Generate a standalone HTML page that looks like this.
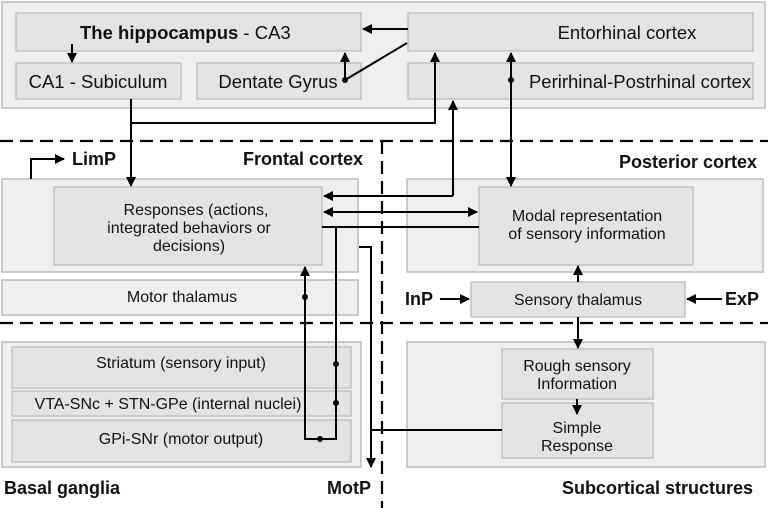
<!DOCTYPE html>
<html><head><meta charset="utf-8"><style>
html,body{margin:0;padding:0;background:#fff}
svg{display:block}
text{font-family:"Liberation Sans",sans-serif;fill:#111}
.c{fill:#efefef;stroke:#bcbcbc;stroke-width:1.5}
.b{fill:#e3e3e3;stroke:#c2c2c2;stroke-width:1.5}
.l{stroke:#000;stroke-width:2;fill:none}
.d{stroke:#000;stroke-width:2.2;stroke-dasharray:13,7;fill:none}
</style></head><body>
<svg width="768" height="508" viewBox="0 0 768 508" xmlns="http://www.w3.org/2000/svg">
<defs><marker id="a" markerWidth="10" markerHeight="10" refX="9" refY="5" orient="auto" markerUnits="userSpaceOnUse"><path d="M0,0 L10,5 L0,10 z" fill="#000"/></marker></defs>
<rect class="c" x="2" y="2" width="763" height="106"/>
<rect class="b" x="16" y="13" width="345" height="38"/>
<rect class="b" x="16" y="63" width="165" height="36"/>
<rect class="b" x="197" y="63" width="164" height="36"/>
<rect class="b" x="408" y="13" width="345" height="38"/>
<rect class="b" x="408" y="63" width="345" height="36"/>
<rect class="c" x="2" y="179" width="356" height="93"/>
<rect class="b" x="54" y="187" width="268" height="78"/>
<rect class="c" x="407" y="179" width="356" height="93"/>
<rect class="b" x="479" y="187" width="214" height="78"/>
<rect class="c" x="2" y="280" width="356" height="35"/>
<rect class="b" x="471" y="282" width="214" height="35"/>
<rect class="c" x="2" y="342" width="359" height="125"/>
<rect class="b" x="12" y="347" width="339" height="41"/>
<rect class="b" x="12" y="391" width="339" height="25"/>
<rect class="b" x="12" y="420" width="339" height="42"/>
<rect class="c" x="407" y="342" width="358" height="125"/>
<rect class="b" x="502" y="349" width="151" height="50"/>
<rect class="b" x="502" y="403" width="151" height="55"/>
<path class="d" d="M0 141 H768 M0 323 H768 M382 141 V508"/>
<text x="80" y="39" font-size="18.5"><tspan font-weight="bold">The hippocampus</tspan> - CA3</text>
<text x="98" y="88" font-size="18.5" text-anchor="middle">CA1 - Subiculum</text>
<text x="278" y="88" font-size="18.5" text-anchor="middle">Dentate Gyrus</text>
<text x="627" y="39" font-size="18.5" text-anchor="middle">Entorhinal cortex</text>
<text x="640" y="88" font-size="18.5" text-anchor="middle">Perirhinal-Postrhinal cortex</text>
<text x="196" y="215" font-size="16" text-anchor="middle">Responses (actions,</text>
<text x="189" y="233" font-size="16" text-anchor="middle">integrated behaviors or</text>
<text x="189" y="251" font-size="16" text-anchor="middle">decisions)</text>
<text x="587" y="221" font-size="16" text-anchor="middle">Modal representation</text>
<text x="587" y="239" font-size="16" text-anchor="middle">of sensory information</text>
<text x="182" y="302" font-size="16" text-anchor="middle">Motor thalamus</text>
<text x="578" y="305" font-size="16" text-anchor="middle">Sensory thalamus</text>
<text x="181" y="368" font-size="16" text-anchor="middle">Striatum (sensory input)</text>
<text x="168" y="409" font-size="16" text-anchor="middle">VTA-SNc + STN-GPe (internal nuclei)</text>
<text x="181" y="444" font-size="16" text-anchor="middle">GPi-SNr (motor output)</text>
<text x="577" y="371" font-size="16" text-anchor="middle">Rough sensory</text>
<text x="577" y="389" font-size="16" text-anchor="middle">Information</text>
<text x="577" y="433" font-size="16" text-anchor="middle">Simple</text>
<text x="577" y="451" font-size="16" text-anchor="middle">Response</text>
<g font-weight="bold" font-size="18">
<text x="72" y="165">LimP</text>
<text x="243" y="165">Frontal cortex</text>
<text x="757" y="168" text-anchor="end">Posterior cortex</text>
<text x="405" y="305">InP</text>
<text x="725" y="305">ExP</text>
<text x="4" y="494">Basal ganglia</text>
<text x="327" y="494">MotP</text>
<text x="753" y="494" text-anchor="end">Subcortical structures</text>
</g>
<g class="l">
<path d="M408 29 H363" marker-end="url(#a)"/>
<path d="M72 44 V62" marker-end="url(#a)"/>
<path d="M345 80 V53" marker-end="url(#a)"/>
<path d="M345 80 L407 43"/>
<path d="M131 99 V186" marker-end="url(#a)"/>
<path d="M131 123 H435 V53" marker-end="url(#a)"/>
<path d="M453 196 V101" marker-end="url(#a)"/>
<path d="M453 196 H324" marker-end="url(#a)"/>
<path d="M511 100 V53" marker-end="url(#a)"/>
<path d="M511 100 V186" marker-end="url(#a)"/>
<path d="M400 212 H324" marker-end="url(#a)"/>
<path d="M400 212 H477" marker-end="url(#a)"/>
<path d="M322 227 H479"/>
<path d="M336 227 V439 H305 V267" marker-end="url(#a)"/>
<path d="M359 247 H371 V467" marker-end="url(#a)"/>
<path d="M371 430 H502"/>
<path d="M31 179 V159 H64" marker-end="url(#a)"/>
<path d="M578 282 V266" marker-end="url(#a)"/>
<path d="M440 299 H469" marker-end="url(#a)"/>
<path d="M722 299 H687" marker-end="url(#a)"/>
<path d="M578 317 V348" marker-end="url(#a)"/>
<path d="M577 399 V414" marker-end="url(#a)"/>
</g>
<g fill="#000">
<circle cx="345" cy="80" r="3"/>
<circle cx="511" cy="80" r="3"/>
<circle cx="305" cy="297" r="3"/>
<circle cx="336" cy="364" r="3"/>
<circle cx="336" cy="403" r="3"/>
<circle cx="320" cy="439" r="3"/>
</g>
</svg>
</body></html>
